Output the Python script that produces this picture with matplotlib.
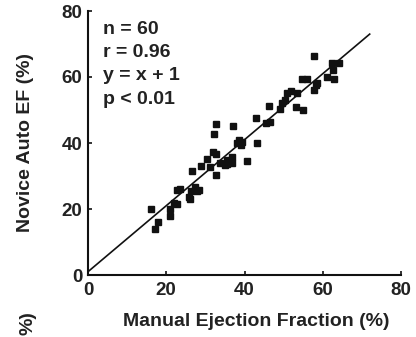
import matplotlib
matplotlib.use("Agg")
import matplotlib.pyplot as plt
import numpy as np

manual_ef = [16, 18, 17, 21, 21, 22, 22.7, 23.6, 25.7, 26.4, 26.6, 27.4, 28.3, 26.1,
             28.9, 30.4, 31.3, 32.6, 32.6, 32.1, 32.7, 33.8, 34.9, 35.4, 36.8, 36.8,
             37.1, 38.1, 38.5, 39.4, 39, 40.7, 43.2, 43, 45.4, 46.5, 46.2, 49.2, 49.7,
             50.9, 51.9, 53.5, 53.1, 55, 54.8, 56.1, 57.8, 58.2, 57.8, 58.6, 61, 62.9,
             62.6, 62.4, 64.2, 50.3, 31.9, 35.5, 22.7, 27.8]
novice_ef = [20, 16.2, 13.8, 19.9, 17.9, 21.9, 25.8, 26, 23.7, 25.5, 31.6, 26.8, 25.8, 22.9,
             33.1, 35.1, 32.8, 30.3, 36.7, 42.6, 45.7, 33.8, 33.3, 34.8, 35.9, 33.8,
             45.2, 39.9, 40.9, 40.4, 39.4, 34.6, 40.1, 47.7, 46.2, 46.5, 51.2, 50.2, 52,
             55.1, 55.8, 55.1, 51, 50, 59.3, 59.3, 66.4, 57.6, 56.1, 58.1, 60.1, 59.3,
             62.1, 64.1, 64.3, 53, 37.3, 33.6, 21.6, 25.4]
fit_x = [0, 72]
slope, intercept = 1.0, 1.0
ticks = [0, 20, 40, 60, 80]
stats = ["n = 60", "r = 0.96", "y = x + 1", "p < 0.01"]

plt.rcParams['font.family'] = ['Liberation Sans', 'DejaVu Sans']
plt.rcParams['font.weight'] = 'bold'

fig = plt.figure(figsize=(4.16, 3.37), dpi=100)
ax = fig.add_axes([88/416, 1 - 275/337, (401-88)/416, (275-11)/337])

fx = np.array(fit_x, dtype=float)
ax.plot(fx, slope * fx + intercept, color='#111111', lw=1.2, zorder=2)
ax.plot(manual_ef, novice_ef, 's', color='#111111', markersize=5, zorder=3)

ax.set_xlim(0, 80)
ax.set_ylim(0, 80)
ax.set_xticks(ticks)
ax.set_yticks(ticks)
ax.set_xticklabels([str(t) for t in ticks], fontsize=13.5, fontweight='bold')
ax.set_yticklabels([str(t) for t in ticks], fontsize=13.5, fontweight='bold')
ax.tick_params(direction='in', length=3, width=1.2, color='#111111', labelcolor='#222222')
ax.tick_params(axis='x', pad=5)
ax.tick_params(axis='y', pad=4)
for s in ['top', 'right']:
    ax.spines[s].set_visible(False)
for s in ['left', 'bottom']:
    ax.spines[s].set_linewidth(1.5)
    ax.spines[s].set_color('#111111')

for i, t in enumerate(stats):
    ax.text(0.048, 0.93 - i * 0.088, t, transform=ax.transAxes, fontsize=14,
            fontweight='bold', color='#222222', va='center', ha='left')

fig.text(256/416, 1 - 322/337, "Manual Ejection Fraction (%)", fontsize=14,
         fontweight='bold', color='#222222', ha='center', va='center')
fig.text(26/416, 1 - 143/337, "Novice Auto EF (%)", fontsize=14, rotation=90,
         fontweight='bold', color='#222222', ha='center', va='center')
fig.text(28/416, 1 - 323/337, "%)", fontsize=14, rotation=90,
         fontweight='bold', color='#222222', ha='center', va='center')

fig.savefig("out.png", dpi=100, facecolor='white')
